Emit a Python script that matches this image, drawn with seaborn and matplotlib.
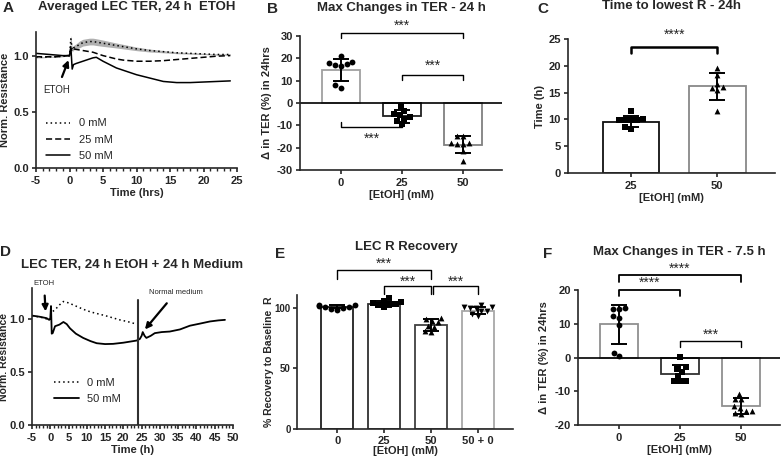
import numpy as np
import pandas as pd
import matplotlib
matplotlib.use("Agg")
import matplotlib.pyplot as plt
import seaborn as sns
from matplotlib.ticker import MultipleLocator

# ---- panel A: averaged TER traces (24 h EtOH)
time_a = [-5, -4, -3, -2, -1, -0.3, 0, 0.2, 0.4, 0.6, 1, 1.5, 2, 2.5, 3, 3.5, 4, 5, 6, 7,
          8, 9, 10, 12, 14, 16, 18, 20, 22, 24]
r0_a = [0.985, 0.985, 0.99, 0.99, 0.995, 1.0, 1.0, 1.15, 1.05, 1.07, 1.08, 1.10, 1.115, 1.12,
        1.125, 1.125, 1.12, 1.11, 1.10, 1.09, 1.08, 1.07, 1.06, 1.045, 1.035, 1.025, 1.02,
        1.015, 1.01, 1.01]
r0_sem_a = [0.005, 0.005, 0.005, 0.005, 0.005, 0.005, 0.01, 0.03, 0.02, 0.02, 0.025, 0.03,
            0.03, 0.03, 0.03, 0.03, 0.03, 0.028, 0.025, 0.022, 0.02, 0.018, 0.016, 0.013,
            0.01, 0.008, 0.007, 0.006, 0.006, 0.006]
r25_a = [0.99, 0.99, 0.99, 0.99, 0.995, 1.0, 1.0, 1.06, 1.04, 1.06, 1.055, 1.05, 1.045, 1.04,
         1.035, 1.03, 1.02, 1.0, 0.985, 0.97, 0.96, 0.955, 0.95, 0.95, 0.955, 0.965, 0.975,
         0.985, 0.995, 1.0]
r50_a = [1.02, 1.015, 1.01, 1.005, 1.0, 1.0, 1.0, 1.08, 0.88, 0.92, 0.93, 0.94, 0.95, 0.96,
         0.97, 0.98, 0.985, 0.95, 0.92, 0.89, 0.87, 0.85, 0.83, 0.80, 0.77, 0.76, 0.76, 0.765,
         0.77, 0.775]

# ---- panel B: max changes in TER - 24 h
conc_b = ["0", "25", "50"]
b_mean = [14.9, -6.0, -18.7]
b_sd = [5.0, 3.0, 3.7]
b_pts = [[17.9, 18.5, 20.9, 16.7, 17.0, 17.5, 6.7, 7.9],
         [-1.2, -7.0, -5.3, -4.8, -3.4, -6.2, -9.4, -8.0],
         [-14.6, -14.6, -17.9, -18.2, -18.3, -18.0, -21.3, -26.1]]

# ---- panel C: time to lowest R - 24 h
conc_c = ["25", "50"]
c_mean = [9.6, 16.2]
c_sd = [1.0, 2.5]
c_pts = [[9.8, 9.8, 11.6, 10.0, 8.6, 8.3, 9.8, 9.9],
         [19.6, 18.3, 16.6, 15.9, 15.5, 16.0, 11.6]]

# ---- panel D: 24 h EtOH + 24 h medium
time_d0 = [-5, -2, -0.3, 0, 0.3, 1.3, 2.5, 3.6, 5, 7, 9, 11, 12.7, 15, 17, 19, 21, 23.6]
r0_d = [1.03, 1.01, 0.99, 1.0, 1.06, 1.085, 1.13, 1.163, 1.15, 1.12, 1.09, 1.065, 1.05,
        1.03, 1.01, 0.99, 0.975, 0.95]
time_d50 = [-5, -4.6, -3, -1, -0.3, 0, 0.2, 0.4, 0.66, 1.3, 2.5, 3.6, 4.5, 5.4, 7, 9, 11,
            12.7, 15, 17.2, 20, 23.6, 24.5, 25.0, 25.3, 25.8, 26.3, 27.5, 28.6, 30.5, 32.7,
            35.5, 38.2, 41, 43.7, 46, 47.8]
r50_d = [1.03, 1.028, 1.02, 1.006, 0.99, 1.0, 1.12, 0.86, 0.865, 0.93, 0.945, 0.97, 0.95,
         0.91, 0.86, 0.82, 0.79, 0.77, 0.762, 0.764, 0.775, 0.795, 0.81, 0.84, 0.875, 0.84,
         0.82, 0.84, 0.865, 0.875, 0.88, 0.90, 0.935, 0.955, 0.975, 0.985, 0.99]
medium_change_t = 24

# ---- panel E: LEC R recovery
conc_e = ["0", "25", "50", "50 + 0"]
e_mean = [101.0, 103.5, 85.8, 97.8]
e_sd = [1.5, 2.5, 5.0, 3.0]
e_pts = [[102.5, 101, 100, 99, 98.5, 101.5, 102, 100.5],
         [109, 106, 104, 103, 102, 101, 105, 103],
         [92, 91, 89, 88, 84, 85, 80, 81],
         [102.5, 97, 93, 100, 101, 99.5, 95, 97.5, 101]]

# ---- panel F: max changes in TER - 7.5 h
conc_f = ["0", "25", "50"]
f_mean = [9.8, -4.8, -14.4]
f_sd = [5.9, 2.6, 2.3]
f_pts = [[14.3, 12.4, 11.7, 14.3, 14.7, 9.7, 1.3, 0.4],
         [0.1, -3.4, -4.3, -2.9, -5.5, -7.0, -7.1, -7.0],
         [-10.8, -12.4, -12.4, -14.5, -15.8, -16.5, -15.8, -15.1, -16.8]]

sns.set_style("ticks")
plt.rcParams['font.family'] = ['Liberation Sans', 'DejaVu Sans']
plt.rcParams['font.weight'] = 'bold'
plt.rcParams['axes.labelweight'] = 'bold'
plt.rcParams['axes.unicode_minus'] = False
plt.rcParams['axes.linewidth'] = 1.2
plt.rcParams['xtick.major.width'] = 1.2
plt.rcParams['ytick.major.width'] = 1.2
plt.rcParams['xtick.major.size'] = 3
plt.rcParams['ytick.major.size'] = 3
plt.rcParams['xtick.major.pad'] = 2.5
plt.rcParams['ytick.major.pad'] = 2
plt.rcParams['xtick.labelsize'] = 8
plt.rcParams['ytick.labelsize'] = 8
plt.rcParams['axes.labelsize'] = 8
plt.rcParams['axes.labelpad'] = 2

W, H = 781, 461
fig = plt.figure(figsize=(W / 100, H / 100), dpi=100)


def rect(x0, x1, ytop, ybot):
    return [x0 / W, 1 - ybot / H, (x1 - x0) / W, (ybot - ytop) / H]


ax_a = fig.add_axes(rect(36, 237, 32, 168))
ax_b = fig.add_axes(rect(300, 502, 36, 170))
ax_c = fig.add_axes(rect(568, 775, 39, 173))
ax_d = fig.add_axes(rect(32, 233, 288, 425))
ax_e = fig.add_axes(rect(297, 513, 295, 429))
ax_f = fig.add_axes(rect(578, 780, 290, 425))


def bars(ax, cats, means, sds, pts, markers, edges, width):
    sns.barplot(x=cats, y=means, order=cats, color='white', edgecolor='black',
                linewidth=1.3, width=width, errorbar=None, ax=ax, zorder=1)
    for patch, ec in zip(ax.patches, edges):
        patch.set_edgecolor(ec)
    for cat, vals, mk in zip(cats, pts, markers):
        sns.swarmplot(x=[cat] * len(vals), y=vals, order=cats, marker=mk, color='black',
                      size=4.2, ax=ax, zorder=3)
    ax.errorbar(range(len(cats)), means, yerr=sds, fmt='none', ecolor='black',
                elinewidth=1.4, capsize=6, capthick=1.4, zorder=4)
    ax.set_xlabel("[EtOH] (mM)")
    sns.despine(ax=ax)


def bracket(ax, x1, x2, y, tip, ty, text, lw=1.0):
    ax.plot([x1, x1, x2, x2], [tip, y, y, tip], color='black', lw=lw, clip_on=False)
    ax.text((x1 + x2) / 2, ty, text, ha='center', va='center', fontsize=10,
            fontweight='normal', clip_on=False)


# ---- A
ax = ax_a
lo = [m - s for m, s in zip(r0_a, r0_sem_a)]
hi = [m + s for m, s in zip(r0_a, r0_sem_a)]
ax.fill_between(time_a, lo, hi, color='#b0b0b0', lw=0)
sns.lineplot(x=time_a, y=r0_a, color='black', lw=1.1, ax=ax, label='0 mM')
sns.lineplot(x=time_a, y=r25_a, color='black', lw=1.1, ax=ax, label='25 mM')
sns.lineplot(x=time_a, y=r50_a, color='black', lw=1.1, ax=ax, label='50 mM')
ax.lines[0].set_linestyle((0, (1, 2)))
ax.lines[1].set_linestyle((0, (4, 2)))
ax.set_xlim(-5, 25)
ax.set_ylim(0, 1.21)
ax.set_xticks(range(-5, 26, 5))
ax.set_yticks([0, 0.5, 1.0])
ax.set_yticklabels(['0.0', '0.5', '1.0'])
ax.xaxis.set_minor_locator(MultipleLocator(1))
ax.tick_params(which='minor', length=2, width=1)
ax.set_xlabel("Time (hrs)")
ax.set_ylabel("Norm. Resistance")
ax.yaxis.set_label_coords(-0.13, 0.5)
ax.legend(loc='lower left', bbox_to_anchor=(0.0, -0.02), frameon=False,
          prop={'size': 8, 'weight': 'normal'}, handlelength=2.2, labelspacing=0.55)
ax.annotate("ETOH", xy=(-0.15, 0.96), xytext=(-1.9, 0.69), fontsize=7,
            fontweight='normal', ha='center', va='center',
            arrowprops=dict(arrowstyle='-|>', color='black', lw=1.6, shrinkA=4,
                            shrinkB=0, mutation_scale=9))
sns.despine(ax=ax)

# ---- B
ax = ax_b
bars(ax, conc_b, b_mean, b_sd, b_pts, ['o', 's', '^'],
     ['#a0a0a0', '#202020', '#808080'], 0.63)
ax.axhline(0, color='black', lw=1.2, zorder=2)
ax.set_xlim(-0.67, 2.64)
ax.set_ylim(-30, 30)
ax.set_yticks(range(-30, 31, 10))
ax.set_ylabel("Δ in TER (%) in 24hrs")
ax.yaxis.set_label_coords(-0.14, 0.5)
bracket(ax, 0, 2, 31.3, 29.3, 34.5, "***")
bracket(ax, 1, 2, 12.7, 10.4, 16.5, "***")
bracket(ax, 0, 1, -10.7, -8.7, -16.0, "***")

# ---- C
ax = ax_c
bars(ax, conc_c, c_mean, c_sd, c_pts, ['s', '^'], ['#101010', '#888888'], 0.66)
ax.set_xlim(-0.73, 1.67)
ax.set_ylim(0, 25)
ax.set_yticks(range(0, 26, 5))
ax.set_ylabel("Time (h)")
ax.yaxis.set_label_coords(-0.11, 0.5)
bracket(ax, 0, 1, 23.6, 22.4, 25.8, "****", lw=1.8)

# ---- D
ax = ax_d
sns.lineplot(x=time_d0, y=r0_d, color='black', lw=1.1, ax=ax, label='0 mM')
sns.lineplot(x=time_d50, y=r50_d, color='black', lw=1.3, ax=ax, label='50 mM')
ax.lines[0].set_linestyle((0, (1, 2)))
ax.axvline(medium_change_t, ymin=0, ymax=1.18 / 1.29, color='#303030', lw=1.5)
ax.set_xlim(-5, 50)
ax.set_ylim(0, 1.29)
ax.set_xticks(range(-5, 51, 5))
ax.set_yticks([0, 0.5, 1.0])
ax.set_yticklabels(['0.0', '0.5', '1.0'])
ax.xaxis.set_minor_locator(MultipleLocator(1))
ax.tick_params(which='minor', length=2, width=1)
ax.set_xlabel("Time (h)")
ax.set_ylabel("Norm. Resistance", fontsize=7.5)
ax.yaxis.set_label_coords(-0.112, 0.5)
ax.legend(loc='lower left', bbox_to_anchor=(0.06, 0.08), frameon=False,
          prop={'size': 8, 'weight': 'normal'}, handlelength=2.2, labelspacing=0.55)
ax.annotate("ETOH", xy=(-1.3, 1.07), xytext=(-1.7, 1.335), fontsize=5.5,
            fontweight='normal', ha='center', va='center', annotation_clip=False,
            arrowprops=dict(arrowstyle='-|>', color='black', lw=1.6, shrinkA=4,
                            shrinkB=0, mutation_scale=9))
ax.annotate("Normal medium", xy=(25.9, 0.9), xytext=(34.4, 1.25), fontsize=5.5,
            fontweight='normal', ha='center', va='center', annotation_clip=False,
            arrowprops=dict(arrowstyle='-|>', color='black', lw=1.6, shrinkA=4,
                            shrinkB=0, mutation_scale=9))
sns.despine(ax=ax)

# ---- E
ax = ax_e
bars(ax, conc_e, e_mean, e_sd, e_pts, ['o', 's', '^', 'v'],
     ['#202020', '#303030', '#404040', '#a8a8a8'], 0.68)
ax.set_xlim(-0.86, 3.75)
ax.set_ylim(0, 110.6)
ax.set_yticks([0, 50, 100])
ax.tick_params(axis='y', labelsize=7, pad=1.5)
ax.set_ylabel("% Recovery to Baseline  R", fontsize=7.5)
ax.yaxis.set_label_coords(-0.106, 0.5)
ax.tick_params(axis='x', pad=2)
ax.xaxis.labelpad = 0
bracket(ax, 0, 2, 131, 124, 136.5, "***")
bracket(ax, 1, 2, 117.8, 111.8, 121.4, "***")
bracket(ax, 2.05, 3, 117.8, 111.8, 121.4, "***")

# ---- F
ax = ax_f
bars(ax, conc_f, f_mean, f_sd, f_pts, ['o', 's', '^'],
     ['#909090', '#303030', '#909090'], 0.63)
ax.axhline(0, color='black', lw=1.2, zorder=2)
ax.set_xlim(-0.67, 2.64)
ax.set_ylim(-20, 20)
ax.set_yticks([-20, -10, 0, 10, 20])
ax.set_ylabel("Δ in TER (%) in 24hrs")
ax.yaxis.set_label_coords(-0.144, 0.5)
bracket(ax, 0, 2, 24.4, 22.3, 26.3, "****", lw=1.3)
bracket(ax, 0, 1, 20.0, 18.3, 22.0, "****", lw=1.3)
bracket(ax, 1, 2, 4.9, 3.25, 6.8, "***")

# titles and panel letters
titles = [("Averaged LEC TER, 24 h  ETOH", 137, 7), ("Max Changes in TER - 24 h", 401, 8),
          ("Time to lowest R - 24h", 672, 6), ("LEC TER, 24 h EtOH + 24 h Medium", 132, 265),
          ("LEC R Recovery", 406, 247), ("Max Changes in TER - 7.5 h", 679, 252)]
for txt, x, y in titles:
    fig.text(x / W, 1 - y / H, txt, ha='center', va='center', fontsize=9.5, fontweight='bold')

letters = [("A", 3, 8), ("B", 267, 9), ("C", 537, 9), ("D", 0, 252), ("E", 275, 254),
           ("F", 543, 254)]
for txt, x, y in letters:
    fig.text(x / W, 1 - y / H, txt, ha='left', va='center', fontsize=11, fontweight='bold')

fig.savefig("out.png", dpi=100)
